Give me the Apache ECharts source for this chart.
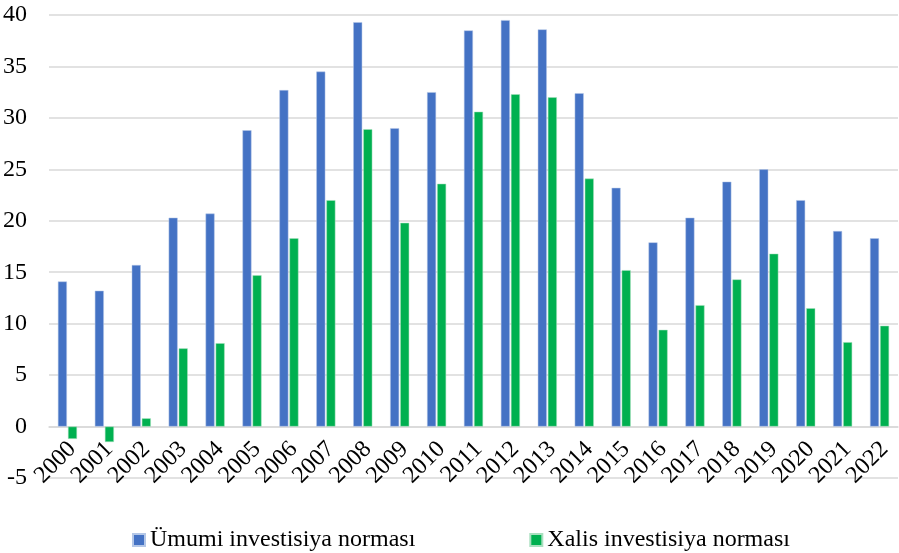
<!DOCTYPE html>
<html>
<head>
<meta charset="utf-8">
<script src="https://cdn.jsdelivr.net/npm/echarts@6/dist/echarts.min.js"></script>
<style>
  html, body { margin: 0; padding: 0; background: #fff; }
  #chart { width: 899px; height: 553px; }
</style>
</head>
<body>
<div id="chart"></div>
<script>
const years = ['2000','2001','2002','2003','2004','2005','2006','2007','2008','2009','2010','2011',
               '2012','2013','2014','2015','2016','2017','2018','2019','2020','2021','2022'];
const grossRate = [14.1, 13.2, 15.7, 20.3, 20.7, 28.8, 32.7, 34.5, 39.3, 29.0, 32.5, 38.5,
                   39.5, 38.6, 32.4, 23.2, 17.9, 20.3, 23.8, 25.0, 22.0, 19.0, 18.3];
const netRate = [-1.2, -1.5, 0.8, 7.6, 8.1, 14.7, 18.3, 22.0, 28.9, 19.8, 23.6, 30.6,
                 32.3, 32.0, 24.1, 15.2, 9.4, 11.8, 14.3, 16.8, 11.5, 8.2, 9.8];
const seriesNames = ['Ümumi investisiya norması', 'Xalis investisiya norması'];

const yMin = -5, yMax = 40;
const gridTop = 15, gridBottom = 75, chartH = 553;
// Category axis sits on the zero line: shift it up by the height of the negative band.
const zeroShift = (chartH - gridTop - gridBottom) * (0 - yMin) / (yMax - yMin);

const font = 'Liberation Serif';
const chart = echarts.init(document.getElementById('chart'));
chart.setOption({
  animation: false,
  grid: { left: 48, right: 1, top: gridTop, bottom: gridBottom, containLabel: false },
  legend: {
    data: seriesNames,
    left: 127,
    top: 523,
    itemWidth: 12,
    itemHeight: 12,
    itemGap: 114,
    icon: 'rect',
    textStyle: { fontFamily: font, fontSize: 24, color: '#000' }
  },
  xAxis: {
    type: 'category',
    data: years,
    offset: -zeroShift,
    axisLine: { onZero: false, lineStyle: { color: '#d9d9d9', width: 1.5 } },
    axisTick: { show: false },
    axisLabel: {
      rotate: 45,
      interval: 0,
      margin: 14,
      formatter: v => '{yr|' + v + '}',
      rich: {
        yr: { fontFamily: font, fontSize: 24, color: '#000', padding: [14, 0, 0, 0] }
      },
      fontFamily: font,
      fontSize: 24,
      color: '#000'
    }
  },
  yAxis: {
    type: 'value',
    min: yMin,
    max: yMax,
    interval: 5,
    axisLine: { show: false },
    axisTick: { show: false },
    splitLine: { lineStyle: { color: '#d9d9d9', width: 1.5 } },
    axisLabel: { fontFamily: font, fontSize: 24, color: '#000', margin: 22 }
  },
  series: [
    {
      name: seriesNames[0],
      type: 'bar',
      data: grossRate,
      barWidth: 9,
      barGap: '12%',
      itemStyle: { color: '#4472C4', borderColor: '#b4c7e7', borderWidth: 0.5 }
    },
    {
      name: seriesNames[1],
      type: 'bar',
      data: netRate,
      barWidth: 9,
      itemStyle: { color: '#00B050', borderColor: '#a9e0bf', borderWidth: 0.5 }
    }
  ]
});
</script>
</body>
</html>
